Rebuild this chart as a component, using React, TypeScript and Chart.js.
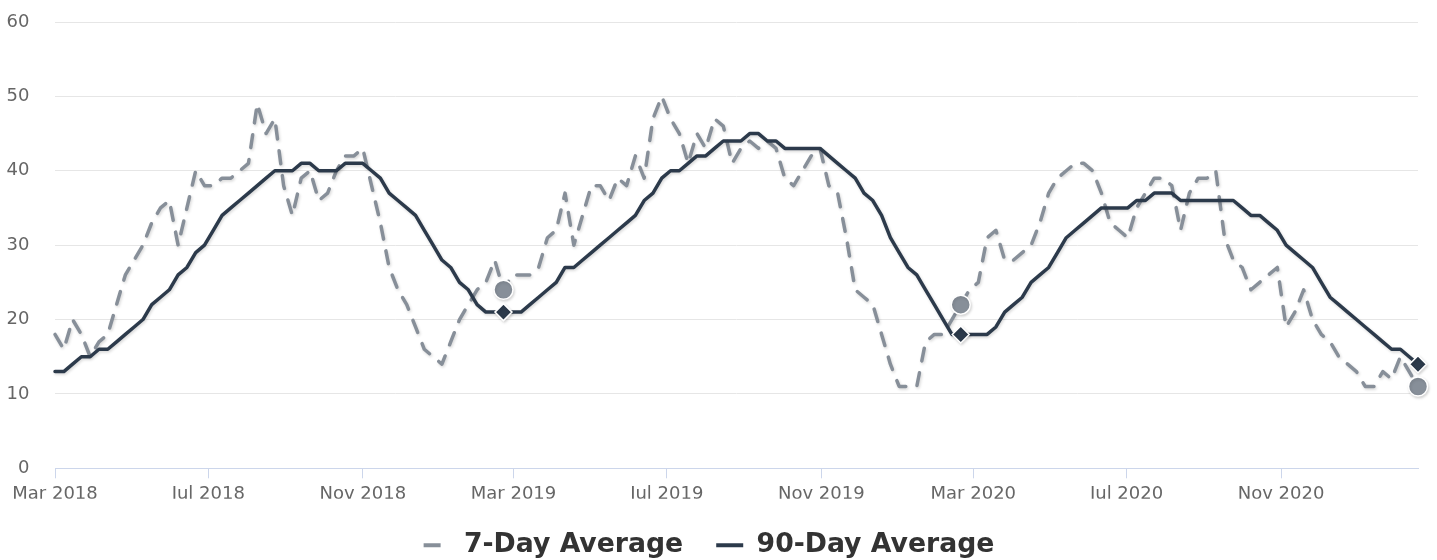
import React, { useEffect, useRef } from 'react';
import { Chart, registerables } from 'chart.js';

Chart.register(...registerables);

// ---- data ----
const firstWeek = '2018-03-01';
const seriesNames = ['7-Day Average', '90-Day Average'];

const sevenDayAverage = [
  18, 16, 20, 18, 15, 17, 18, 22, 26, 28,
  30, 33, 35, 36, 30, 35, 40, 38, 38, 39,
  39, 40, 41, 49, 45, 47, 38, 34, 39, 40,
  36, 37, 40, 42, 42, 43, 38, 33, 27, 24,
  22, 19, 16, 15, 14, 17, 20, 22, 24, 25,
  28, 24, 26, 26, 26, 27, 31, 32, 37, 30,
  34, 38, 38, 36, 39, 38, 42, 39, 47, 50,
  47, 45, 41, 45, 43, 47, 46, 41, 43, 44,
  43, 44, 43, 39, 38, 40, 42, 43, 38, 37,
  31, 24, 23, 22, 18, 14, 11, 11, 11, 17,
  18, 18, 20, 22, 24, 25, 31, 32, 28, 28,
  29, 30, 33, 37, 39, 40, 41, 41, 40, 37,
  33, 32, 31, 35, 37, 39, 39, 38, 32, 37,
  39, 39, 40, 31, 28, 27, 24, 25, 26, 27,
  19, 21, 24, 20, 18, 17, 15, 14, 13, 11,
  11, 13, 12, 15, 13, 11,
];

const ninetyDayAverage = [
  13, 13, 14, 15, 15, 16, 16, 17, 18, 19,
  20, 22, 23, 24, 26, 27, 29, 30, 32, 34,
  35, 36, 37, 38, 39, 40, 40, 40, 41, 41,
  40, 40, 40, 41, 41, 41, 40, 39, 37, 36,
  35, 34, 32, 30, 28, 27, 25, 24, 22, 21,
  21, 21, 21, 21, 22, 23, 24, 25, 27, 27,
  28, 29, 30, 31, 32, 33, 34, 36, 37, 39,
  40, 40, 41, 42, 42, 43, 44, 44, 44, 45,
  45, 44, 44, 43, 43, 43, 43, 43, 42, 41,
  40, 39, 37, 36, 34, 31, 29, 27, 26, 24,
  22, 20, 18, 18, 18, 18, 18, 19, 21, 22,
  23, 25, 26, 27, 29, 31, 32, 33, 34, 35,
  35, 35, 35, 36, 36, 37, 37, 37, 36, 36,
  36, 36, 36, 36, 36, 35, 34, 34, 33, 32,
  30, 29, 28, 27, 25, 23, 22, 21, 20, 19,
  18, 17, 16, 16, 15, 14,
];

// weeks marked with a point (one year apart, ending at the latest week)
const highlightedWeeks = [51, 103, 155];

const tickDates = [
  '2018-03-01', '2018-07-01', '2018-11-01',
  '2019-03-01', '2019-07-01', '2019-11-01',
  '2020-03-01', '2020-07-01', '2020-11-01',
];
const tickLabels = [
  'Mar 2018', 'Jul 2018', 'Nov 2018',
  'Mar 2019', 'Jul 2019', 'Nov 2019',
  'Mar 2020', 'Jul 2020', 'Nov 2020',
];
const yMin = 0;
const yMax = 60;
const yStep = 10;

// ---- styles ----
const FONT = "'DejaVu Sans', 'Liberation Sans', sans-serif";
const GRAY = '#878f99';
const DARK = '#2c3a4b';
const WEEK_MS = 7 * 86400000;

export default function App() {
  const canvasRef = useRef<HTMLCanvasElement | null>(null);

  useEffect(() => {
    document.body.style.margin = '0';
    const canvas = canvasRef.current;
    if (!canvas) return;

    const start = Date.parse(firstWeek);
    const toPoints = (arr: number[]) => arr.map((v, i) => ({ x: start + i * WEEK_MS, y: v }));
    const isMarked = (ctx: any) => highlightedWeeks.includes(ctx.dataIndex);

    const shadowPlugin = {
      id: 'lineShadow',
      beforeDatasetDraw(chart: any) {
        const c = chart.ctx;
        c.save();
        c.shadowColor = 'rgba(0,0,0,0.16)';
        c.shadowBlur = 3;
        c.shadowOffsetX = 1;
        c.shadowOffsetY = 1.5;
      },
      afterDatasetDraw(chart: any) {
        chart.ctx.restore();
      },
    };

    const legendShift = {
      id: 'legendShift',
      beforeInit(chart: any) {
        const legend = chart.legend;
        if (!legend) return;
        const orig = legend.fit;
        legend.fit = function () {
          orig.call(this);
          this.height -= 8.5;
        };
      },
    };

    const chart = new Chart(canvas, {
      type: 'line',
      data: {
        datasets: [
          {
            label: seriesNames[0],
            data: toPoints(sevenDayAverage),
            borderColor: GRAY,
            backgroundColor: GRAY,
            borderWidth: 3.5,
            borderDash: [13, 12],
            borderCapStyle: 'round',
            borderJoinStyle: 'round',
            tension: 0,
            fill: false,
            clip: false,
            pointStyle: 'circle',
            pointRadius: (ctx: any) => (isMarked(ctx) ? 9.5 : 0),
            pointHoverRadius: (ctx: any) => (isMarked(ctx) ? 9.5 : 0),
            pointBackgroundColor: GRAY,
            pointBorderColor: '#ffffff',
            pointBorderWidth: 1.5,
            order: 1,
          },
          {
            label: seriesNames[1],
            data: toPoints(ninetyDayAverage),
            borderColor: DARK,
            backgroundColor: DARK,
            borderWidth: 3.5,
            borderCapStyle: 'round',
            borderJoinStyle: 'round',
            tension: 0,
            fill: false,
            clip: false,
            pointStyle: 'rectRot',
            pointRadius: (ctx: any) => (isMarked(ctx) ? 8.5 : 0),
            pointHoverRadius: (ctx: any) => (isMarked(ctx) ? 8.5 : 0),
            pointBackgroundColor: DARK,
            pointBorderColor: '#ffffff',
            pointBorderWidth: 1.5,
            order: 0,
          },
        ],
      },
      options: {
        animation: false,
        responsive: true,
        maintainAspectRatio: false,
        events: [],
        layout: { padding: { top: 22, right: 19, left: 0, bottom: 0 } },
        plugins: {
          tooltip: { enabled: false },
          title: { display: false },
          legend: {
            position: 'bottom',
            align: 'center',
            labels: {
              usePointStyle: true,
              pointStyleWidth: 27,
              padding: 33,
              color: '#333333',
              font: { family: FONT, size: 26.7, weight: 'bold' },
              generateLabels: (ch: any) =>
                [0, 1].map((i) => {
                  const ds = ch.data.datasets[i];
                  return {
                    text: ds.label,
                    datasetIndex: i,
                    hidden: false,
                    pointStyle: 'line',
                    strokeStyle: ds.borderColor,
                    fillStyle: ds.borderColor,
                    lineWidth: 4,
                    lineDash: i === 0 ? [17, 14] : [],
                    lineCap: 'butt',
                    fontColor: '#333333',
                  };
                }),
            },
          },
        },
        scales: {
          x: {
            type: 'linear',
            min: start,
            max: start + (sevenDayAverage.length - 1) * WEEK_MS,
            offset: false,
            afterBuildTicks: (scale: any) => {
              scale.ticks = tickDates.map((d) => ({ value: Date.parse(d) }));
            },
            afterFit: (scale: any) => {
              scale.height = 30.5;
            },
            ticks: {
              autoSkip: false,
              maxRotation: 0,
              minRotation: 0,
              padding: 5,
              color: '#666666',
              font: { family: FONT, size: 18 },
              callback: (_v: any, index: number) => tickLabels[index],
            },
            grid: {
              display: true,
              drawOnChartArea: false,
              drawTicks: true,
              tickLength: 10,
              color: '#ccd6eb',
              lineWidth: 1,
            },
            border: { display: true, color: '#ccd6eb', width: 1 },
          },
          y: {
            type: 'linear',
            min: yMin,
            max: yMax,
            afterFit: (scale: any) => {
              scale.width = 55;
              scale.paddingTop = 0;
              scale.paddingBottom = 0;
            },
            ticks: {
              stepSize: yStep,
              padding: 25.5,
              color: '#666666',
              font: { family: FONT, size: 18 },
            },
            grid: {
              color: '#e6e6e6',
              lineWidth: 1,
              drawTicks: false,
            },
            border: { display: false },
          },
        },
      },
      plugins: [shadowPlugin, legendShift],
    } as any);

    return () => chart.destroy();
  }, []);

  return (
    <div style={{ position: 'relative', width: 1437, height: 560 }}>
      <canvas ref={canvasRef} />
    </div>
  );
}
